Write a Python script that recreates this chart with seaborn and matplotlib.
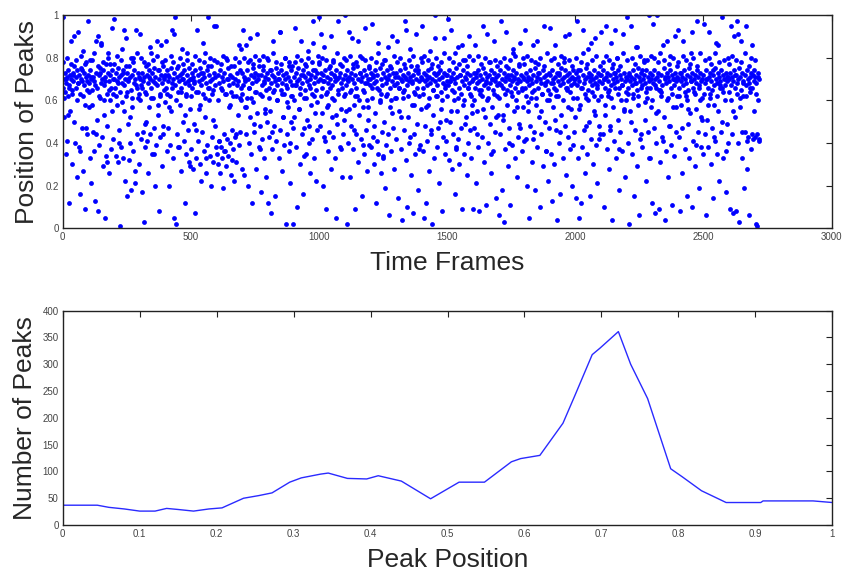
import numpy as np
import matplotlib
matplotlib.use('Agg')
import matplotlib.pyplot as plt
import seaborn as sns

# Peak position (in %), one value every 2nd time frame.
# Each row is a block of 100 frames (50 values).
peak_pos_pct = [
    99, 66, 70, 52, 64, 73, 35, 68, 71, 41, 62, 74, 12, 67, 72, 55, 70, 88, 65, 30, 73, 69, 50, 76, 40, 71, 66, 24, 74, 92, 68, 38, 72, 63, 16, 70, 75, 47, 69, 83, 27, 73, 67, 58, 9, 71, 78, 44, 65, 97,
    72, 57, 68, 33, 74, 70, 21, 65, 79, 45, 71, 36, 69, 13, 88, 73, 51, 66, 90, 8, 72, 39, 75, 61, 68, 87, 43, 70, 29, 74, 67, 53, 5, 71, 77, 34, 63, 48, 73, 82, 69, 26, 72, 60, 37, 66, 94, 74, 42, 70,
    70, 98, 66, 34, 73, 58, 69, 31, 75, 46, 71, 64, 1, 72, 38, 68, 84, 33, 74, 55, 67, 22, 70, 89, 62, 15, 73, 49, 69, 32, 76, 40, 71, 65, 18, 72, 57, 80, 36, 68, 74, 27, 70, 93, 44, 66, 73, 61, 30, 71,
    91, 70, 42, 67, 17, 73, 45, 69, 3, 71, 38, 64, 76, 50, 72, 41, 68, 26, 74, 57, 70, 44, 66, 82, 35, 73, 61, 69, 47, 75, 20, 71, 39, 67, 88, 74, 53, 70, 8, 63, 43, 72, 86, 68, 29, 76, 48, 71, 65, 59,
    72, 88, 66, 36, 74, 47, 69, 20, 71, 62, 39, 75, 55, 68, 93, 70, 33, 73, 5, 67, 99, 2, 71, 44, 64, 76, 38, 69, 58, 72, 27, 66, 84, 73, 50, 70, 41, 74, 12, 68, 63, 35, 72, 79, 46, 69, 31, 75, 56, 70,
    70, 37, 73, 66, 28, 71, 49, 68, 7, 74, 33, 64, 93, 72, 41, 69, 56, 75, 30, 67, 22, 70, 45, 73, 63, 36, 71, 82, 52, 68, 26, 74, 39, 66, 99, 72, 60, 34, 69, 20, 76, 43, 70, 65, 31, 73, 95, 48, 67, 38,
    95, 35, 72, 30, 68, 41, 74, 26, 66, 38, 71, 33, 19, 69, 44, 73, 36, 63, 80, 29, 70, 42, 75, 34, 67, 57, 72, 40, 64, 25, 71, 46, 68, 37, 76, 22, 70, 43, 62, 31, 73, 53, 69, 39, 86, 74, 45, 66, 60, 28,
    73, 93, 67, 25, 71, 57, 69, 86, 44, 74, 61, 20, 70, 40, 66, 79, 52, 72, 35, 68, 12, 75, 59, 71, 45, 64, 73, 28, 69, 91, 54, 70, 38, 76, 63, 48, 72, 17, 67, 42, 74, 81, 33, 69, 56, 71, 65, 24, 73, 50,
    70, 12, 66, 43, 74, 55, 68, 7, 72, 37, 64, 88, 71, 48, 69, 15, 75, 41, 67, 60, 73, 33, 70, 92, 46, 65, 74, 27, 68, 52, 72, 39, 63, 80, 70, 2, 73, 44, 66, 57, 71, 36, 76, 21, 69, 50, 74, 62, 67, 47,
    2, 71, 52, 67, 94, 73, 38, 69, 10, 75, 56, 70, 30, 66, 88, 72, 44, 68, 16, 74, 61, 47, 71, 65, 35, 76, 51, 69, 83, 73, 40, 67, 26, 70, 58, 72, 63, 42, 74, 97, 68, 33, 71, 54, 65, 22, 73, 46, 69, 78,
    99, 70, 48, 73, 91, 66, 54, 72, 20, 69, 85, 41, 74, 63, 9, 71, 57, 68, 36, 75, 45, 70, 66, 28, 73, 52, 67, 79, 43, 72, 60, 69, 33, 74, 5, 70, 49, 65, 97, 71, 38, 73, 56, 68, 24, 76, 44, 70, 62, 51,
    72, 100, 67, 55, 74, 2, 69, 40, 71, 92, 64, 24, 73, 48, 70, 89, 37, 75, 58, 68, 9, 72, 44, 66, 62, 76, 31, 70, 53, 73, 81, 42, 69, 15, 71, 57, 65, 35, 74, 94, 68, 46, 72, 60, 27, 70, 51, 75, 39, 67,
    70, 38, 73, 96, 66, 43, 71, 30, 68, 54, 74, 12, 69, 41, 72, 87, 35, 65, 60, 75, 26, 70, 45, 67, 33, 73, 79, 50, 71, 19, 68, 39, 74, 63, 44, 70, 6, 72, 57, 66, 36, 75, 90, 69, 47, 73, 28, 67, 61, 71,
    73, 42, 68, 88, 71, 14, 66, 55, 74, 37, 70, 4, 69, 61, 72, 46, 65, 97, 75, 32, 70, 10, 67, 52, 73, 40, 69, 84, 71, 25, 76, 58, 68, 7, 72, 44, 64, 35, 74, 91, 70, 49, 66, 18, 73, 62, 69, 39, 71, 56,
    70, 95, 66, 36, 73, 5, 69, 48, 72, 12, 67, 41, 74, 58, 71, 27, 68, 83, 75, 44, 70, 2, 65, 53, 73, 33, 69, 100, 72, 62, 38, 67, 76, 47, 70, 21, 74, 64, 56, 71, 8, 68, 43, 73, 89, 66, 35, 72, 51, 69,
    72, 98, 67, 32, 74, 50, 69, 93, 71, 28, 65, 44, 73, 60, 70, 16, 68, 37, 75, 55, 71, 85, 42, 66, 30, 72, 63, 47, 69, 9, 74, 58, 67, 35, 71, 79, 52, 70, 25, 73, 66, 40, 68, 90, 46, 72, 62, 33, 69, 54,
    70, 9, 73, 47, 66, 86, 71, 21, 68, 55, 74, 38, 69, 8, 72, 63, 65, 43, 70, 95, 75, 31, 67, 52, 73, 11, 69, 60, 71, 40, 66, 78, 72, 49, 68, 26, 74, 57, 70, 36, 65, 88, 73, 45, 69, 14, 71, 62, 67, 53,
    72, 6, 68, 44, 74, 97, 70, 18, 66, 51, 73, 3, 69, 37, 71, 92, 65, 58, 75, 29, 70, 47, 67, 11, 72, 64, 69, 39, 74, 82, 71, 55, 66, 33, 73, 60, 68, 24, 70, 43, 76, 49, 69, 87, 72, 36, 65, 57, 71, 41,
    70, 93, 66, 42, 73, 20, 69, 55, 71, 5, 67, 48, 74, 61, 70, 31, 68, 86, 72, 45, 65, 18, 75, 58, 69, 38, 71, 77, 66, 52, 73, 10, 70, 44, 68, 63, 74, 29, 71, 95, 67, 50, 72, 36, 69, 60, 65, 22, 73, 47,
    72, 94, 68, 35, 74, 13, 70, 57, 66, 30, 71, 86, 65, 46, 73, 4, 69, 62, 72, 40, 67, 16, 75, 53, 70, 33, 68, 80, 71, 48, 74, 25, 66, 65, 72, 43, 69, 91, 73, 37, 70, 56, 67, 20, 71, 61, 74, 45, 68, 52,
    70, 14, 73, 97, 67, 33, 71, 5, 69, 58, 74, 12, 66, 38, 72, 93, 68, 46, 70, 26, 75, 61, 71, 35, 65, 84, 73, 50, 69, 15, 72, 42, 67, 64, 70, 30, 74, 55, 68, 89, 71, 39, 66, 21, 73, 60, 69, 48, 72, 44,
    72, 92, 68, 44, 74, 10, 70, 53, 66, 95, 71, 37, 73, 62, 69, 28, 65, 48, 72, 87, 67, 4, 75, 57, 70, 41, 68, 66, 73, 33, 71, 80, 69, 51, 74, 18, 66, 45, 72, 60, 70, 36, 67, 91, 73, 56, 69, 24, 71, 64,
    70, 99, 66, 40, 73, 2, 69, 55, 71, 95, 67, 35, 74, 63, 70, 15, 68, 46, 72, 85, 65, 29, 75, 58, 71, 6, 69, 42, 73, 66, 67, 38, 70, 79, 72, 51, 68, 22, 74, 61, 66, 45, 71, 100, 69, 33, 73, 57, 70, 12,
    72, 96, 68, 47, 74, 7, 70, 40, 66, 100, 71, 55, 73, 9, 69, 31, 65, 64, 72, 43, 67, 86, 75, 52, 70, 4, 68, 36, 73, 60, 71, 24, 69, 48, 74, 81, 66, 39, 72, 11, 70, 57, 67, 34, 73, 90, 69, 45, 71, 62,
    70, 93, 66, 43, 73, 8, 69, 58, 71, 26, 67, 88, 74, 37, 70, 62, 68, 15, 72, 49, 65, 33, 75, 54, 71, 82, 69, 10, 73, 41, 66, 64, 70, 29, 72, 56, 68, 97, 74, 45, 71, 19, 67, 60, 73, 38, 69, 51, 70, 35,
    72, 96, 68, 44, 74, 6, 70, 51, 66, 38, 71, 92, 73, 63, 69, 30, 65, 47, 72, 14, 67, 58, 75, 41, 70, 87, 68, 35, 73, 55, 71, 22, 69, 66, 74, 45, 66, 99, 72, 33, 70, 60, 67, 17, 73, 49, 69, 40, 71, 64,
    70, 9, 73, 95, 67, 44, 71, 7, 69, 90, 74, 52, 66, 8, 72, 97, 68, 40, 70, 3, 75, 57, 71, 88, 65, 33, 73, 62, 69, 19, 72, 45, 67, 95, 74, 28, 70, 43, 68, 6, 71, 64, 73, 37, 66, 86, 72, 42, 69, 55,
    71, 43, 2, 68, 44, 1, 73, 60, 70, 42,
]

# Extra peaks (in %) on the in-between frames, one every 5th frame (offset 1),
# mostly the fuzzy edges of the main band. 20 values per 100 frames.
peak_pos_extra_pct = [
    78, 61, 70, 80, 53, 66, 77, 63, 72, 90, 79, 60, 68, 36, 81, 74, 62, 77, 47, 69,
    64, 79, 71, 58, 82, 67, 44, 76, 62, 73, 86, 78, 60, 69, 31, 80, 65, 77, 55, 63,
    77, 62, 81, 68, 40, 79, 59, 73, 93, 76, 64, 70, 52, 80, 61, 78, 21, 67, 82, 63,
    60, 80, 66, 78, 49, 63, 77, 71, 85, 61, 79, 35, 68, 81, 58, 74, 62, 78, 44, 70,
    79, 63, 72, 57, 81, 66, 78, 91, 60, 75, 38, 80, 64, 70, 77, 53, 62, 82, 67, 29,
    62, 77, 69, 81, 46, 64, 79, 58, 73, 87, 78, 61, 33, 76, 66, 80, 63, 51, 79, 71,
    78, 60, 41, 77, 65, 81, 36, 63, 79, 70, 58, 76, 32, 62, 80, 44, 67, 78, 61, 84,
    63, 80, 70, 57, 78, 66, 89, 61, 77, 49, 81, 64, 72, 79, 37, 62, 76, 68, 54, 80,
    79, 61, 74, 45, 82, 65, 78, 60, 70, 92, 77, 63, 52, 80, 67, 59, 78, 40, 62, 76,
    60, 78, 67, 81, 56, 63, 79, 72, 34, 77, 61, 80, 48, 66, 78, 87, 62, 74, 59, 81,
    77, 62, 80, 69, 43, 79, 64, 58, 76, 90, 61, 78, 71, 53, 82, 63, 77, 37, 66, 80,
    63, 79, 70, 56, 81, 65, 77, 46, 62, 78, 88, 60, 73, 80, 39, 64, 79, 68, 57, 76,
    80, 61, 72, 48, 78, 66, 82, 59, 63, 77, 34, 79, 62, 70, 85, 76, 60, 54, 81, 67,
    61, 78, 66, 80, 52, 64, 77, 71, 93, 62, 79, 43, 69, 81, 58, 63, 76, 74, 37, 80,
    78, 63, 81, 57, 70, 79, 61, 46, 77, 65, 89, 80, 62, 73, 50, 78, 60, 82, 67, 41,
    62, 80, 69, 55, 78, 64, 82, 38, 61, 77, 72, 86, 79, 60, 49, 76, 66, 81, 63, 58,
    79, 60, 73, 44, 81, 65, 77, 62, 56, 80, 68, 91, 61, 78, 35, 70, 63, 79, 52, 76,
    61, 78, 67, 53, 80, 63, 76, 72, 40, 79, 62, 84, 70, 81, 57, 64, 77, 47, 66, 80,
    77, 62, 81, 59, 70, 79, 64, 42, 78, 61, 88, 73, 80, 55, 63, 76, 68, 36, 82, 60,
    63, 79, 68, 80, 51, 62, 77, 73, 45, 81, 60, 78, 90, 66, 57, 79, 64, 76, 39, 70,
    80, 61, 74, 56, 78, 66, 82, 63, 48, 77, 60, 71, 87, 79, 62, 53, 81, 67, 42, 76,
    62, 78, 70, 58, 81, 64, 79, 46, 61, 77, 73, 93, 80, 63, 37, 76, 67, 82, 55, 60,
    79, 63, 72, 50, 80, 61, 77, 68, 85, 62, 81, 44, 74, 78, 59, 64, 79, 33, 66, 81,
    60, 80, 67, 54, 78, 65, 82, 62, 41, 79, 71, 88, 61, 77, 48, 63, 80, 70, 57, 76,
    78, 62, 73, 47, 81, 64, 79, 60, 56, 77, 69, 92, 80, 63, 39, 76, 66, 82, 52, 61,
    63, 79, 70, 58, 80, 61, 77, 74, 43, 82, 62, 86, 78, 67, 50, 64, 79, 36, 71, 80,
    77, 60, 81, 55, 72, 79, 63, 91, 61, 78, 45, 68, 82, 62, 41, 76, 66, 80, 44, 74,
    79, 63, 71, 41,
]

# Histogram curve of the bottom panel
hist_pos = [0.0, 0.045, 0.06, 0.08, 0.1, 0.12, 0.135, 0.15, 0.17, 0.19,
            0.207, 0.235, 0.255, 0.272, 0.295, 0.31, 0.335, 0.345, 0.37, 0.395,
            0.41, 0.44, 0.478, 0.515, 0.548, 0.583, 0.595, 0.62, 0.65, 0.665,
            0.688, 0.698, 0.722, 0.738, 0.76, 0.79, 0.805, 0.83, 0.862, 0.907,
            0.91, 0.975, 1.0]
hist_count = [37, 37, 33, 30, 26, 26, 31, 29, 26, 30,
              32, 50, 55, 60, 80, 88, 95, 97, 87, 86,
              92, 82, 49, 80, 80, 118, 124, 130, 190, 240,
              318, 330, 361, 300, 236, 105, 90, 64, 42, 42,
              45, 45, 42]

time_ticks = [0, 500, 1000, 1500, 2000, 2500, 3000]
pos_ticks = [0, 0.2, 0.4, 0.6, 0.8, 1.0]
pos_tick_labels = ['0', '0.2', '0.4', '0.6', '0.8', '1']
peak_ticks = [0, 0.1, 0.2, 0.3, 0.4, 0.5, 0.6, 0.7, 0.8, 0.9, 1.0]
peak_tick_labels = ['0', '0.1', '0.2', '0.3', '0.4', '0.5', '0.6', '0.7', '0.8', '0.9', '1']
count_ticks = [0, 50, 100, 150, 200, 250, 300, 350, 400]

sns.set_style('white')
plt.rcParams['font.family'] = ['Liberation Sans', 'DejaVu Sans']

# frame index of every value: every 2nd frame, plus the in-between set every 5th
pos_main = np.array(peak_pos_pct) / 100.0
pos_extra = np.array(peak_pos_extra_pct) / 100.0
frames = np.concatenate([np.arange(len(pos_main)) * 2,
                         np.arange(len(pos_extra)) * 5 + 1])
positions = np.concatenate([pos_main, pos_extra])

fig = plt.figure(figsize=(8.45, 5.7), dpi=100)
ax1 = fig.add_axes([0.0742, 0.5995, 0.9100, 0.3742])
ax2 = fig.add_axes([0.0742, 0.0789, 0.9108, 0.3760])

sns.scatterplot(x=frames, y=positions, ax=ax1, color='#0000ff', s=12,
                linewidth=0, marker='o')
ax1.set_xlim(0, 3000)
ax1.set_ylim(0, 1)
ax1.set_xticks(time_ticks)
ax1.set_xticklabels([str(t) for t in time_ticks])
ax1.set_yticks(pos_ticks)
ax1.set_yticklabels(pos_tick_labels)
ax1.set_xlabel('Time Frames', fontsize=19, labelpad=6)
ax1.set_ylabel('Position of Peaks', fontsize=19, labelpad=4)

sns.lineplot(x=hist_pos, y=hist_count, ax=ax2, color='#2a2aff', lw=1.0)
ax2.set_xlim(0, 1)
ax2.set_ylim(0, 400)
ax2.set_xticks(peak_ticks)
ax2.set_xticklabels(peak_tick_labels)
ax2.set_yticks(count_ticks)
ax2.set_yticklabels([str(c) for c in count_ticks])
ax2.set_xlabel('Peak Position', fontsize=19, labelpad=6)
ax2.set_ylabel('Number of Peaks', fontsize=19, labelpad=4)

for ax in (ax1, ax2):
    for sp in ax.spines.values():
        sp.set_visible(True)
        sp.set_color('#222222')
        sp.set_linewidth(1.0)
    ax.tick_params(direction='in', length=4, width=0.8, top=True, right=True,
                   labelsize=7, labelcolor='#444444', color='#222222', pad=3)

plt.savefig('out.png', dpi=100)
